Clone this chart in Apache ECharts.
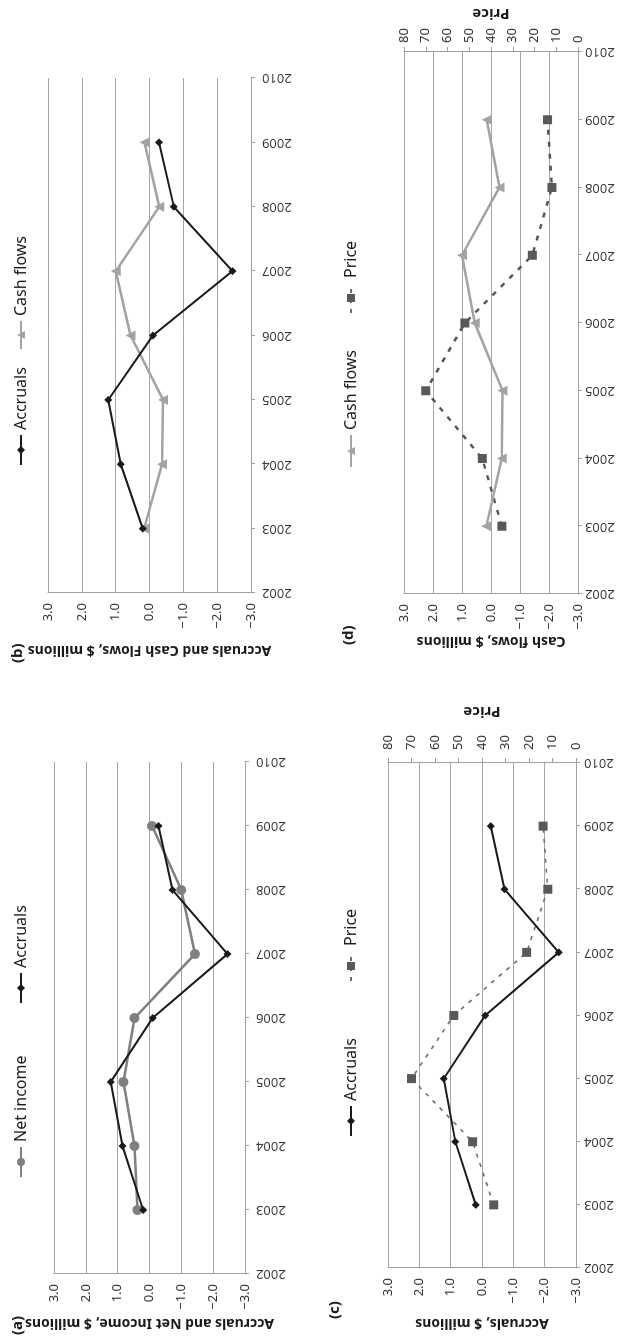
<!DOCTYPE html>
<html><head><meta charset="utf-8">
<script src="https://cdn.jsdelivr.net/npm/echarts@6/dist/echarts.min.js"></script>
<style>
html,body{margin:0;padding:0;background:#fff;overflow:hidden;width:624px;height:1344px;}
#wrap{position:absolute;left:0;top:0;width:1344px;height:624px;transform-origin:0 0;transform:translateY(1344px) rotate(-90deg);}
</style></head><body><div id="wrap"></div>
<script>
const years = [2003, 2004, 2005, 2006, 2007, 2008, 2009];
const accruals = [0.2, 0.85, 1.22, -0.1, -2.45, -0.72, -0.28];
const netIncome = [0.38, 0.47, 0.82, 0.47, -1.43, -1.0, -0.08];
const cashFlows = [0.16, -0.37, -0.4, 0.56, 1.0, -0.29, 0.15];
const price = [35, 44, 70, 52, 21, 12, 14];
const yearRange = [2002, 2010];
const valueRange = [-3, 3];
const priceRange = [0, 80];

const FONT = '"Noto Sans", "Open Sans", sans-serif';
const pair = arr => years.map((y, i) => [y, arr[i]]);
const fmtVal = v => (v < 0 ? '\u2212' + Math.abs(v).toFixed(1) : v.toFixed(1));

const grids = [
  {left: 70, width: 512, top: 54, height: 191},   // a
  {left: 751, width: 515, top: 48, height: 203},  // b
  {left: 76, width: 505, top: 388, height: 188},  // c
  {left: 750, width: 542, top: 404, height: 174}  // d
];
const yNames = ['Accruals and Net Income, $ millions', 'Accruals and Cash Flows, $ millions', 'Accruals, $ millions', 'Cash flows, $ millions'];
const yGaps = [42, 50, 48, 40];
const xMargins = [11, 11, 8, 7];

const xAxes = grids.map((g, i) => ({
  type: 'value', gridIndex: i, min: yearRange[0], max: yearRange[1], interval: 1,
  axisLine: {onZero: false, lineStyle: {color: '#a0a0a0', width: 1}},
  axisTick: {show: true, length: 4, lineStyle: {color: '#a0a0a0'}},
  splitLine: {show: false},
  axisLabel: {color: '#333333', fontSize: 13, fontFamily: FONT, formatter: v => String(v), margin: xMargins[i], rotate: 90}
}));
const yAxes = grids.map((g, i) => ({
  type: 'value', gridIndex: i, min: valueRange[0], max: valueRange[1], interval: 1,
  name: yNames[i], nameLocation: 'middle', nameGap: yGaps[i], nameRotate: 90,
  nameTextStyle: {fontWeight: 'bold', fontSize: 14, color: '#1a1a1a', fontFamily: FONT},
  axisLine: {show: true, lineStyle: {color: '#a0a0a0', width: 1}},
  axisTick: {show: false},
  splitLine: {show: true, lineStyle: {color: '#a6a6a6', width: 1}},
  axisLabel: {color: '#333333', fontSize: 13, fontFamily: FONT, formatter: fmtVal, margin: 10}
}));
[[2, 44, 13], [3, 31, 9]].forEach(([gi, gap, mg]) => {
  yAxes.push({
    type: 'value', gridIndex: gi, position: 'right', min: priceRange[0], max: priceRange[1], interval: 10,
    name: 'Price', nameLocation: 'middle', nameGap: gap, nameRotate: 90,
    nameTextStyle: {fontWeight: 'bold', fontSize: 15, color: '#1a1a1a', fontFamily: FONT},
    axisLine: {show: true, lineStyle: {color: '#a0a0a0', width: 1}},
    axisTick: {show: true, length: 5, lineStyle: {color: '#a0a0a0'}},
    splitLine: {show: false},
    axisLabel: {color: '#333333', fontSize: 13, fontFamily: FONT, margin: mg}
  });
});

const sAccruals = (gi) => ({name: 'Accruals', type: 'line', xAxisIndex: gi, yAxisIndex: gi, data: pair(accruals),
  symbol: 'diamond', symbolSize: 8, color: '#1a1a1a', lineStyle: {width: 2, color: '#1a1a1a'}, itemStyle: {color: '#1a1a1a'}, z: 5});
const sNet = (gi) => ({name: 'Net income', type: 'line', xAxisIndex: gi, yAxisIndex: gi, data: pair(netIncome),
  symbol: 'circle', symbolSize: 10, color: '#808080', lineStyle: {width: 2.5, color: '#808080'}, itemStyle: {color: '#808080'}, z: 4});
const sCash = (gi) => ({name: 'Cash flows', type: 'line', xAxisIndex: gi, yAxisIndex: gi, data: pair(cashFlows),
  symbol: 'triangle', symbolSize: 10, color: '#a3a3a3', lineStyle: {width: 2.5, color: '#a3a3a3'}, itemStyle: {color: '#a3a3a3'}, z: 4});
const sPrice = (gi, yi, w, col, dash) => ({name: 'Price', type: 'line', xAxisIndex: gi, yAxisIndex: yi, data: pair(price),
  symbol: 'rect', symbolSize: 9, color: '#595959', lineStyle: {width: w, type: dash, color: col}, itemStyle: {color: '#595959'}, z: 3});

const series = [sNet(0), sAccruals(0), sAccruals(1), sCash(1), sAccruals(2), sPrice(2, 4, 1.6, '#6e6e6e', [4, 6]), sCash(3), sPrice(3, 5, 2.4, '#555555', [5, 7])];

const legItem = (name, left, top, w) => ({
  data: [name], left: left, top: top, orient: 'horizontal', itemWidth: w, itemHeight: 10, itemGap: 0, selectedMode: false,
  textStyle: {fontSize: 16, color: '#1a1a1a', fontFamily: FONT, lineHeight: 18, padding: [0, 0, 0, 0]}, padding: 0
});
const legends = [
  legItem('Net income', 166, 12, 30), legItem('Accruals', 340, 12, 30),
  legItem('Accruals', 878, 12, 30), legItem('Cash flows', 994, 12, 28),
  legItem('Accruals', 207, 342, 30), legItem('Price', 362, 342, 30),
  legItem('Cash flows', 876, 342, 32), legItem('Price', 1030, 342, 30)
];

const labels = [['(a)', 9, 10], ['(b)', 681, 10], ['(c)', 25, 327], ['(d)', 699, 341]];
const graphic = labels.map(([t, x, y]) => ({type: 'text', left: x, top: y,
  style: {text: t, fontSize: 15, fontWeight: 'bold', fill: '#1a1a1a', fontFamily: FONT}}));

const chart = echarts.init(document.getElementById('wrap'), null, {renderer: 'canvas', width: 1344, height: 624});
chart.setOption({
  backgroundColor: '#ffffff', animation: false,
  grid: grids, xAxis: xAxes, yAxis: yAxes, series: series, legend: legends, graphic: graphic
});
</script></body></html>
